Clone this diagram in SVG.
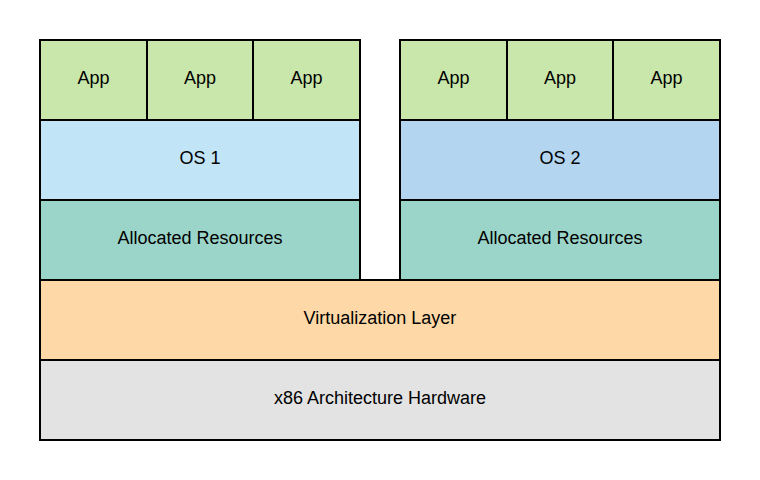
<svg xmlns="http://www.w3.org/2000/svg" width="760" height="480" viewBox="0 0 760 480">
<style>
rect{stroke:#000;stroke-width:2}
text{font-family:"Liberation Sans",Arial,sans-serif;font-size:18px;fill:#000;text-anchor:middle}
.app{fill:#c9e7aa}
.os1{fill:#c2e4f7}
.os2{fill:#b3d5f0}
.res{fill:#9bd5c9}
.virt{fill:#fed9a7}
.hw{fill:#e3e3e3}
</style>
<rect width="760" height="480" fill="#fff" style="stroke:none"/>
<g id="hw"><rect class="hw" x="40" y="360" width="680" height="80"/><text x="380" y="404">x86 Architecture Hardware</text></g>
<g id="virt"><rect class="virt" x="40" y="280" width="680" height="80"/><text x="380" y="324">Virtualization Layer</text></g>
<g id="res1"><rect class="res" x="40" y="200" width="320" height="80"/><text x="200" y="244">Allocated Resources</text></g>
<g id="res2"><rect class="res" x="400" y="200" width="320" height="80"/><text x="560" y="244">Allocated Resources</text></g>
<g id="os1"><rect class="os1" x="40" y="120" width="320" height="80"/><text x="200" y="164">OS 1</text></g>
<g id="os2"><rect class="os2" x="400" y="120" width="320" height="80"/><text x="560" y="164">OS 2</text></g>
<g id="app1"><rect class="app" x="40" y="40" width="107" height="80"/><text x="93.5" y="84">App</text></g>
<g id="app2"><rect class="app" x="147" y="40" width="106" height="80"/><text x="200" y="84">App</text></g>
<g id="app3"><rect class="app" x="253" y="40" width="107" height="80"/><text x="306.5" y="84">App</text></g>
<g id="app4"><rect class="app" x="400" y="40" width="107" height="80"/><text x="453.5" y="84">App</text></g>
<g id="app5"><rect class="app" x="507" y="40" width="106" height="80"/><text x="560" y="84">App</text></g>
<g id="app6"><rect class="app" x="613" y="40" width="107" height="80"/><text x="666.5" y="84">App</text></g>
<g id="connectors"></g>
</svg>
